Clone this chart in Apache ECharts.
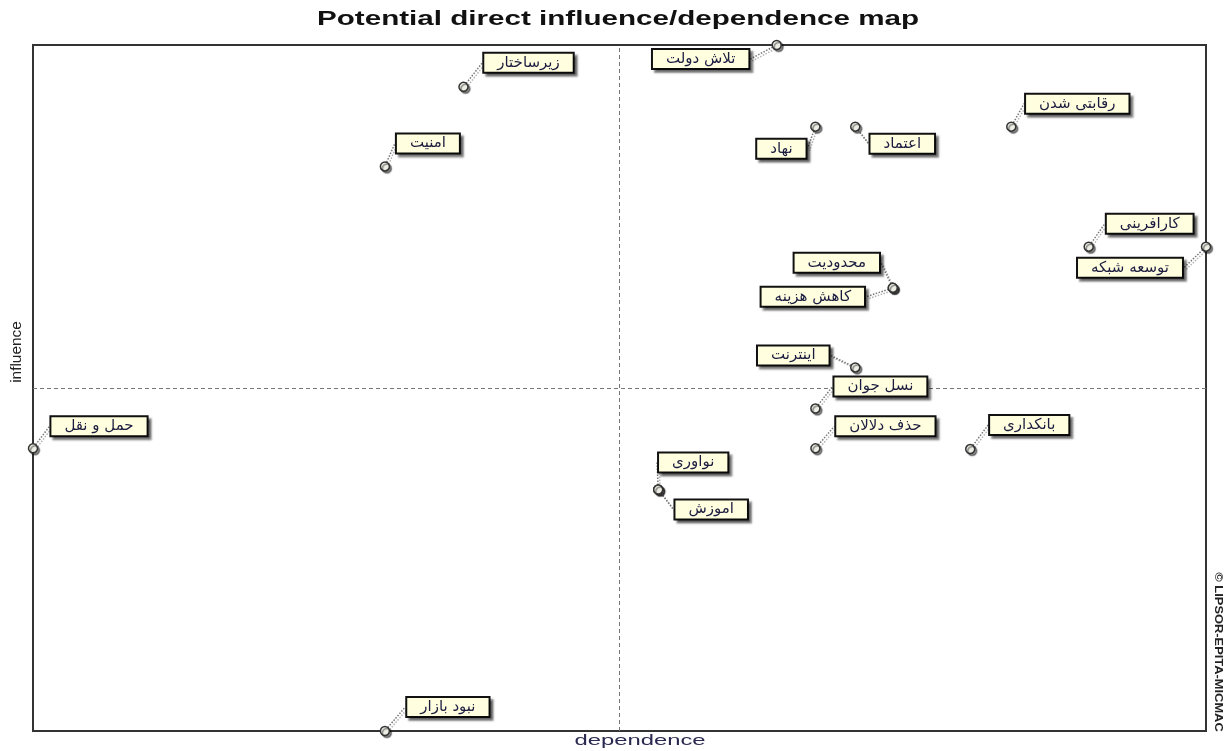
<!DOCTYPE html>
<html><head><meta charset="utf-8">
<script src="https://cdn.jsdelivr.net/npm/echarts@6/dist/echarts.min.js"></script>
<style>html,body{margin:0;padding:0;background:#fff}#c{width:1229px;height:751px}</style>
</head><body><div id="c"></div>
<script>
// ---- data ----
const FACTORS = ['تلاش دولت','زیرساختار','امنیت','نهاد','اعتماد','رقابتی شدن','کارافرینی','توسعه شبکه','محدودیت','کاهش هزینه','اینترنت','نسل جوان','حذف دلالان','بانکداری','حمل و نقل','نواوری','اموزش','نبود بازار'];
const DEPENDENCE = [63.4,36.7,30.0,66.7,70.1,83.4,90.0,100,73.3,73.3,70.1,66.7,66.7,79.9,0,53.3,53.3,30.0];
const INFLUENCE  = [100,93.9,82.3,88.1,88.1,88.1,70.6,70.6,64.6,64.6,53.0,47.0,41.2,41.1,41.2,35.2,35.2,0];
const AXIS_MIN = 0, AXIS_MAX = 100;
const MID_DEPENDENCE = 50, MID_INFLUENCE = 50;
const TITLE = 'Potential direct influence/dependence map';
const X_NAME = 'dependence', Y_NAME = 'influence';
const COPYRIGHT = '© LIPSOR-EPITA-MICMAC';

// ---- label placement (pixels, label centre relative to point) ----
const LABEL_OFFSETS = [[-76,14],[65,-24],[43,-23],[-34,22],[47,17],[66,-23],[61,-23],[-76,21],[-56,-25],[-80,9],[-62,-12],[65,-22],[70,-22],[59,-24],[66,-22],[35,-27],[53,20],[63,-24]];

const data = FACTORS.map((n,i)=>({name:n, value:[DEPENDENCE[i], INFLUENCE[i]]}));

const chart = echarts.init(document.getElementById('c'));
chart.setOption({
  animation:false,
  backgroundColor:'#fff',
  grid:{left:33,right:23,top:45,bottom:20,show:true,borderColor:'#333',borderWidth:2,backgroundColor:'transparent'},
  xAxis:{type:'value',min:AXIS_MIN,max:AXIS_MAX,axisLine:{show:false},axisTick:{show:false},axisLabel:{show:false},splitLine:{show:false}},
  yAxis:{type:'value',min:AXIS_MIN,max:AXIS_MAX,axisLine:{show:false},axisTick:{show:false},axisLabel:{show:false},splitLine:{show:false}},
  graphic:[
    {type:'text',x:618,y:19,scaleX:1.48,z:10,style:{text:TITLE,font:'bold 20px "Liberation Sans", Arial, sans-serif',fill:'#111',align:'center',verticalAlign:'middle',textAlign:'center',textVerticalAlign:'middle'}},
    {type:'text',x:640,y:741,scaleX:1.7,z:10,style:{text:X_NAME,font:'14px "Liberation Sans", Arial, sans-serif',fill:'#2a2a50',align:'center',verticalAlign:'middle',textAlign:'center',textVerticalAlign:'middle'}},
    {type:'text',x:17,y:352,rotation:Math.PI/2,scaleX:1.1,z:10,style:{text:Y_NAME,font:'14px "Liberation Sans", Arial, sans-serif',fill:'#222',align:'center',verticalAlign:'middle',textAlign:'center',textVerticalAlign:'middle'}},
    {type:'text',x:1218,y:652,rotation:-Math.PI/2,scaleX:1.17,z:10,style:{text:COPYRIGHT,font:'bold 11px "Liberation Sans", Arial, sans-serif',fill:'#222',align:'center',verticalAlign:'middle',textAlign:'center',textVerticalAlign:'middle'}}
  ],
  series:[{
    type:'scatter',
    clip:false,
    z:3,
    data:data,
    symbol:'circle',
    symbolSize:9,
    itemStyle:{color:'#eeeee6',borderColor:'#333',borderWidth:1.5,shadowColor:'rgba(0,0,0,0.45)',shadowOffsetX:2,shadowOffsetY:2,shadowBlur:1,opacity:1},
    label:{
      show:true,position:'inside',formatter:'{b}',
      color:'#1c1c40',fontSize:15,fontFamily:'"DejaVu Sans", "Liberation Sans", sans-serif',
      backgroundColor:'#ffffe0',borderColor:'#111',borderWidth:2,padding:[1,13],lineHeight:16,
      shadowColor:'rgba(0,0,0,0.45)',shadowOffsetX:3,shadowOffsetY:3,shadowBlur:2
    },
    labelLine:{show:true,lineStyle:{color:'#777',type:'dotted',width:1.5,shadowColor:'rgba(0,0,0,0.3)',shadowOffsetX:2,shadowOffsetY:2}},
    labelLayout:function(p){const o=LABEL_OFFSETS[p.dataIndex];return {dx:o[0],dy:o[1]};},
    markLine:{
      silent:true,symbol:'none',label:{show:false},z:1,
      lineStyle:{color:'#777',type:[4,3],width:1},
      data:[{xAxis:MID_DEPENDENCE},{yAxis:MID_INFLUENCE}]
    }
  }]
});
</script></body></html>
